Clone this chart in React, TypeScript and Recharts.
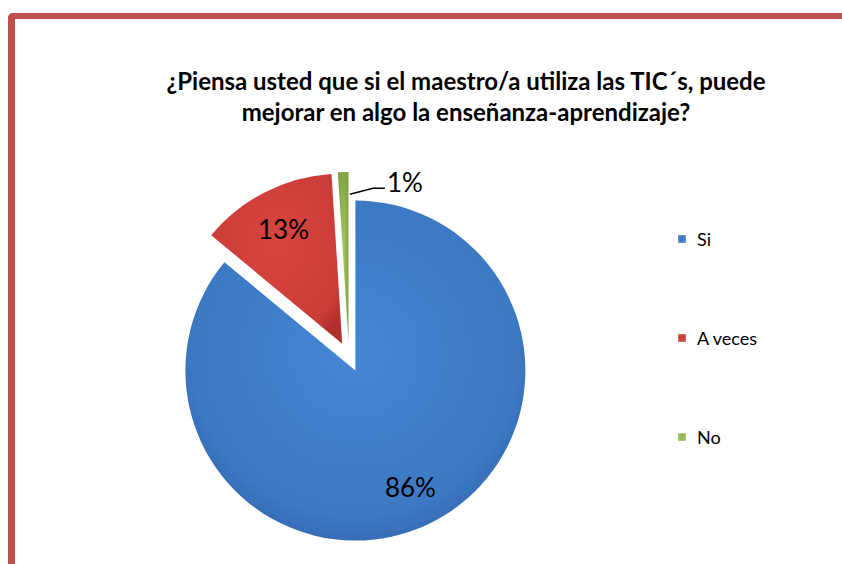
import React from 'react';
import { Legend, Pie, PieChart, Sector } from 'recharts';

const categories = ['Si', 'A veces', 'No'];
const percents = [86, 13, 1];
const colors = ['url(#gSi)', 'url(#gAveces)', 'url(#gNo)'];
const swatches = ['#3F7CC8', '#CC3F3B', '#94B854'];

const title = [
    '¿Piensa usted que si el maestro/a utiliza las TIC´s, puede',
    'mejorar en algo la enseñanza-aprendizaje?',
];

const data = categories.map((name, i) => ({ name, value: percents[i], fill: colors[i] }));

const RADIAN = Math.PI / 180;
const EXPLODE = 15;
const FONT = 'Lato, "Liberation Sans", sans-serif';

const shift = (cx: number, cy: number, midAngle: number, d: number) => ({
    x: cx + d * Math.cos(-midAngle * RADIAN),
    y: cy + d * Math.sin(-midAngle * RADIAN),
});

const renderSector = (props: any) => {
    const p = shift(props.cx, props.cy, props.midAngle, EXPLODE);
    return <Sector {...props} cx={p.x} cy={p.y} stroke="none" />;
};

const renderLabel = (props: any) => {
    const { cx, cy, midAngle, outerRadius, value } = props;
    const c = shift(cx, cy, midAngle, EXPLODE);
    if (value < 5) {
        const s = shift(c.x, c.y, midAngle, outerRadius * 0.87);
        const sx = s.x + 6;
        return (
            <g>
                <polyline
                    points={`${sx},${s.y} ${sx + 23},${s.y - 6} ${sx + 35},${s.y - 6}`}
                    fill="none"
                    stroke="#000"
                    strokeWidth={1.5}
                />
                <text
                    x={sx + 37}
                    y={s.y - 12}
                    fill="#000"
                    fontSize={26}
                    fontFamily={FONT}
                    dominantBaseline="central"
                >
                    {`${value}%`}
                </text>
            </g>
        );
    }
    const t = shift(c.x, c.y, midAngle, outerRadius * 0.76);
    return (
        <text
            x={t.x}
            y={t.y}
            fill="#000"
            fontSize={26}
            fontFamily={FONT}
            textAnchor="middle"
            dominantBaseline="central"
        >
            {`${value}%`}
        </text>
    );
};

const renderLegend = () => (
    <div>
        {categories.map((name, i) => (
            <div
                key={name}
                style={{ height: 99, display: 'flex', alignItems: 'flex-start' }}
            >
                <span
                    style={{
                        width: 8,
                        height: 8,
                        marginTop: 6,
                        marginRight: 11,
                        background: swatches[i],
                        boxShadow: 'inset 0 0 2px rgba(255,255,255,0.7)',
                    }}
                />
                <span style={{ fontSize: 18, fontFamily: FONT, color: '#000', lineHeight: '20px' }}>
                    {name}
                </span>
            </div>
        ))}
    </div>
);

export default function App() {
    return (
        <div
            style={{
                position: 'fixed',
                left: 0,
                top: 0,
                width: 842,
                height: 564,
                overflow: 'hidden',
                background: '#fff',
            }}
        >
            <div
                style={{
                    position: 'absolute',
                    left: 8,
                    top: 13,
                    width: 900,
                    height: 620,
                    borderTop: '6px solid #C0504D',
                    borderLeft: '7px solid #C0504D',
                    borderTopLeftRadius: 5,
                }}
            />
            <div
                style={{
                    position: 'absolute',
                    left: 66,
                    top: 65,
                    width: 800,
                    textAlign: 'center',
                    fontFamily: FONT,
                    fontWeight: 'bold',
                    fontSize: 24,
                    lineHeight: '31px',
                    color: '#000',
                }}
            >
                {title.map((line) => (
                    <div key={line}>{line}</div>
                ))}
            </div>
            <div style={{ position: 'absolute', left: 0, top: 0 }}>
                <PieChart width={842} height={564} margin={{ top: 0, right: 0, bottom: 0, left: 0 }}>
                    <defs>
                        <radialGradient id="gSi" cx="50%" cy="45%" r="60%">
                            <stop offset="0%" stopColor="#4486D3" />
                            <stop offset="80%" stopColor="#3D78C3" />
                            <stop offset="100%" stopColor="#3265AC" />
                        </radialGradient>
                        <radialGradient id="gAveces" cx="50%" cy="40%" r="65%">
                            <stop offset="0%" stopColor="#D9443F" />
                            <stop offset="85%" stopColor="#C93C38" />
                            <stop offset="100%" stopColor="#B0302D" />
                        </radialGradient>
                        <radialGradient id="gNo" cx="50%" cy="50%" r="60%">
                            <stop offset="0%" stopColor="#A6C862" />
                            <stop offset="100%" stopColor="#7FA040" />
                        </radialGradient>
                    </defs>
                    <Pie
                        data={data}
                        dataKey="value"
                        nameKey="name"
                        cx={349}
                        cy={357}
                        outerRadius={170}
                        startAngle={90}
                        endAngle={-270}
                        stroke="none"
                        shape={renderSector}
                        inactiveShape={renderSector}
                        activeShape={renderSector}
                        label={renderLabel}
                        labelLine={false}
                        isAnimationActive={false}
                    />
                    <Legend
                        layout="vertical"
                        verticalAlign="top"
                        align="right"
                        content={renderLegend}
                        wrapperStyle={{ left: 678, top: 229, width: 120 }}
                    />
                </PieChart>
            </div>
        </div>
    );
}
